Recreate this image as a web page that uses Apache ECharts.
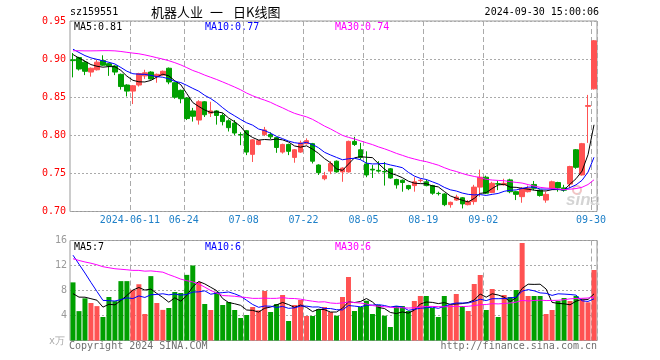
<!DOCTYPE html>
<html><head><meta charset="utf-8">
<script src="https://cdn.jsdelivr.net/npm/echarts@6/dist/echarts.min.js"></script>
<style>html,body{margin:0;padding:0;background:#fff}#c{width:660px;height:360px}</style>
</head><body><div id="c"></div>
<script>
const dates = [
'2024-05-27','2024-05-28','2024-05-29','2024-05-30','2024-05-31',
'2024-06-03','2024-06-04','2024-06-05','2024-06-06','2024-06-07',
'2024-06-11','2024-06-12','2024-06-13','2024-06-14',
'2024-06-17','2024-06-18','2024-06-19','2024-06-20','2024-06-21',
'2024-06-24','2024-06-25','2024-06-26','2024-06-27','2024-06-28',
'2024-07-01','2024-07-02','2024-07-03','2024-07-04','2024-07-05',
'2024-07-08','2024-07-09','2024-07-10','2024-07-11','2024-07-12',
'2024-07-15','2024-07-16','2024-07-17','2024-07-18','2024-07-19',
'2024-07-22','2024-07-23','2024-07-24','2024-07-25','2024-07-26',
'2024-07-29','2024-07-30','2024-07-31','2024-08-01','2024-08-02',
'2024-08-05','2024-08-06','2024-08-07','2024-08-08','2024-08-09',
'2024-08-12','2024-08-13','2024-08-14','2024-08-15','2024-08-16',
'2024-08-19','2024-08-20','2024-08-21','2024-08-22','2024-08-23',
'2024-08-26','2024-08-27','2024-08-28','2024-08-29','2024-08-30',
'2024-09-02','2024-09-03','2024-09-04','2024-09-05','2024-09-06',
'2024-09-09','2024-09-10','2024-09-11','2024-09-12','2024-09-13',
'2024-09-18','2024-09-19','2024-09-20',
'2024-09-23','2024-09-24','2024-09-25','2024-09-26','2024-09-27',
'2024-09-30'];

const open = [
0.899,0.902,0.896,0.883,0.886, 0.898,0.894,0.891,0.880,0.866,
0.858,0.866,0.878,0.883, 0.877,0.879,0.888,0.869,0.859,
0.849,0.832,0.820,0.844,0.829, 0.832,0.826,0.819,0.816,0.801,
0.806,0.775,0.788,0.801,0.801, 0.797,0.778,0.788,0.771,0.778,
0.789,0.789,0.761,0.743,0.753, 0.766,0.752,0.752,0.792,0.781,
0.7625,0.7555,0.754,0.7525,0.756, 0.742,0.741,0.734,0.734,0.7405,
0.739,0.734,0.7238,0.723,0.709, 0.715,0.718,0.709,0.713,0.732,
0.745,0.725,0.7365,0.735,0.7415, 0.726,0.7195,0.726,0.7355,0.728,
0.715,0.7305,0.738, 0.731,0.736,0.781,0.748,0.838, 0.861];
const close = [
0.898,0.887,0.884,0.888,0.896, 0.892,0.891,0.883,0.864,0.858,
0.865,0.881,0.882,0.874, 0.880,0.884,0.870,0.850,0.848,
0.822,0.825,0.844,0.827,0.832, 0.826,0.818,0.810,0.803,0.8005,
0.778,0.794,0.793,0.807,0.798, 0.784,0.788,0.779,0.781,0.790,
0.793,0.766,0.751,0.747,0.763, 0.752,0.757,0.792,0.788,0.771,
0.748,0.7545,0.753,0.752,0.744, 0.735,0.738,0.730,0.739,0.741,
0.734,0.724,0.7235,0.709,0.712, 0.719,0.710,0.713,0.732,0.745,
0.724,0.737,0.736,0.737,0.726, 0.7225,0.7305,0.7305,0.7305,0.721,
0.7225,0.739,0.731, 0.728,0.759,0.758,0.789,0.839, 0.924];
const low = [
0.876,0.885,0.879,0.877,0.885, 0.891,0.878,0.879,0.860,0.851,
0.841,0.864,0.874,0.873, 0.869,0.878,0.867,0.848,0.842,
0.820,0.818,0.814,0.824,0.824, 0.814,0.813,0.805,0.800,0.787,
0.774,0.765,0.787,0.799,0.795, 0.777,0.776,0.774,0.764,0.777,
0.788,0.763,0.748,0.741,0.749, 0.751,0.739,0.751,0.786,0.768,
0.745,0.744,0.751,0.734,0.743, 0.730,0.726,0.728,0.726,0.738,
0.733,0.722,0.721,0.707,0.705, 0.714,0.704,0.708,0.709,0.7195,
0.723,0.724,0.728,0.734,0.724, 0.715,0.7115,0.725,0.728,0.7195,
0.7115,0.729,0.726, 0.726,0.7305,0.756,0.747,0.790, 0.860];
const high = [
0.908,0.903,0.898,0.889,0.899, 0.905,0.895,0.892,0.881,0.867,
0.866,0.882,0.886,0.884, 0.881,0.885,0.889,0.870,0.860,
0.850,0.836,0.846,0.845,0.844, 0.833,0.829,0.821,0.820,0.804,
0.807,0.795,0.794,0.811,0.804, 0.798,0.789,0.789,0.782,0.793,
0.796,0.790,0.762,0.752,0.766, 0.767,0.758,0.793,0.798,0.790,
0.779,0.761,0.766,0.765,0.757, 0.743,0.742,0.735,0.745,0.743,
0.742,0.735,0.726,0.724,0.713, 0.722,0.719,0.715,0.735,0.755,
0.747,0.739,0.740,0.743,0.743, 0.727,0.732,0.734,0.740,0.729,
0.726,0.7405,0.739, 0.735,0.760,0.782,0.790,0.853, 0.925];
// volume, in 10k (万) units
const volume = [
9.3,4.7,6.75,6.0,5.5, 3.76,6.96,6.3,9.5,9.5,
8.1,9.0,4.24,10.3, 6.0,4.9,5.2,7.76,7.6,
10.5,12.0,9.36,5.84,4.88, 7.8,5.68,6.16,4.88,3.6,
4.08,5.36,4.83,7.92,4.56, 5.84,7.28,3.12,5.68,6.48,
3.92,3.92,5.0,5.36,4.55, 3.97,6.96,10.16,4.72,5.36,
6.37,4.24,5.68,3.97,2.16, 5.52,5.52,4.72,6.32,7.12,
7.12,5.2,3.76,7.12,5.68, 7.44,5.52,4.72,9.04,10.48,
4.88,8.24,3.76,7.28,6.96, 8.08,15.6,7.12,7.12,7.12,
4.24,4.88,6.32, 6.8,6.32,7.12,6.48,6.11, 11.28];
// sessions before 2024-05-27, estimated from where the MA lines start
const prevCloses = [0.885,0.89,0.888,0.892,0.887,0.89,0.893,0.888,0.889,0.895,
0.91,0.925,0.93,0.935,0.94,0.932,0.928,0.935,0.93,0.935,
0.93,0.925,0.918,0.915,0.912, 0.91,0.905,0.91,0.907];
const prevVolumes = [13,14,12,13,13, 12,11,12,12,11, 9,8,9,9,8, 17,18,19,18,18,
19,21,21,20,18, 7.5,6.8,7.2,6.7];

const labelDates = ['2024-06-11','2024-06-24','2024-07-08','2024-07-22','2024-08-05','2024-08-19','2024-09-02','2024-09-30'];
const labelTexts = ['2024-06-11','06-24','07-08','07-22','08-05','08-19','09-02','09-30'];
const priceMin = 0.70, priceMax = 0.95, priceStep = 0.05;
const volMin = 0, volMax = 16, volStep = 4;

const RED = '#ff5252', GREEN = '#00a000';
const MONO = 'DejaVu Sans Mono';

function ma(n, hist, vals) {
  const all = hist.concat(vals);
  return vals.map((_, i) => {
    const end = hist.length + i;
    let s = 0;
    for (let k = end - n + 1; k <= end; k++) s += all[k];
    return +(s / n).toFixed(4);
  });
}

const kData = dates.map((d, i) => [open[i], close[i], low[i], high[i]]);
const volData = volume.map((v, i) => ({ value: v, itemStyle: { color: close[i] >= open[i] ? RED : GREEN } }));
const isLabel = (i, v) => labelDates.indexOf(v) >= 0;

const chart = echarts.init(document.getElementById('c'), null, { renderer: 'canvas' });

function xAxisCfg(gi, showLabel) {
  return {
    type: 'category', gridIndex: gi, data: dates, boundaryGap: true,
    axisLine: { show: false }, axisTick: { show: false },
    axisLabel: {
      show: showLabel, interval: isLabel,
      formatter: v => labelTexts[labelDates.indexOf(v)],
      color: '#1f80c8', fontFamily: MONO, fontSize: 10, margin: 4, padding: [0, 6, 0, 0]
    },
    splitLine: { show: true, interval: isLabel, lineStyle: { color: '#aaaaaa', type: [5, 3], width: 1 } }
  };
}
function lineS(name, data, color, xi, yi) {
  return { name, type: 'line', data, xAxisIndex: xi, yAxisIndex: yi, symbol: 'none',
    lineStyle: { color, width: 1 }, itemStyle: { color }, z: 5, silent: true };
}

const txt = (text, x, y, fill, font, align) => ({
  type: 'text', x, y, silent: true,
  style: { text, fill, font, textAlign: align || 'left', textVerticalAlign: 'middle' }
});

chart.setOption({
  animation: false,
  backgroundColor: '#fff',
  grid: [
    { left: 70, top: 21, width: 527, height: 190.5, show: true, borderColor: '#999', borderWidth: 1, backgroundColor: 'transparent' },
    { left: 70, top: 240.5, width: 527, height: 100, show: true, borderColor: '#999', borderWidth: 1, backgroundColor: 'transparent' }
  ],
  xAxis: [xAxisCfg(0, true), xAxisCfg(1, false)],
  yAxis: [
    { type: 'value', gridIndex: 0, min: priceMin, max: priceMax, interval: priceStep,
      axisLine: { show: false }, axisTick: { show: false },
      axisLabel: { color: '#ff0000', fontFamily: MONO, fontSize: 10, margin: 4, formatter: v => v.toFixed(2) },
      splitLine: { lineStyle: { color: '#aaaaaa', type: [2, 2] } } },
    { type: 'value', gridIndex: 1, min: volMin, max: volMax, interval: volStep,
      axisLine: { show: false }, axisTick: { show: false },
      axisLabel: { color: '#999', fontFamily: MONO, fontSize: 10, margin: 3, formatter: v => v === 0 ? '' : String(v) },
      splitLine: { lineStyle: { color: '#aaaaaa', type: [2, 2] } } }
  ],
  series: [
    { type: 'candlestick', xAxisIndex: 0, yAxisIndex: 0, data: kData, barWidth: 5,
      itemStyle: { color: RED, color0: GREEN, borderColor: RED, borderColor0: GREEN, borderWidth: 1 } },
    lineS('MA5', ma(5, prevCloses, close), '#000000', 0, 0),
    lineS('MA10', ma(10, prevCloses, close), '#0000ff', 0, 0),
    lineS('MA30', ma(30, prevCloses, close), '#ff00ff', 0, 0),
    { type: 'bar', xAxisIndex: 1, yAxisIndex: 1, data: volData, barWidth: 5 },
    lineS('VMA5', ma(5, prevVolumes, volume), '#000000', 1, 1),
    lineS('VMA10', ma(10, prevVolumes, volume), '#0000ff', 1, 1),
    lineS('VMA30', ma(30, prevVolumes, volume), '#ff00ff', 1, 1)
  ],
  graphic: [
    txt('sz159551', 70, 12, '#000', '10px ' + MONO),
    txt('机器人业', 151, 12, '#000', '13px "Noto Sans CJK SC"'),
    txt('一', 210, 12, '#000', '13px "Noto Sans CJK SC"'),
    txt('日K线图', 233, 12, '#000', '13px "Noto Sans CJK SC"'),
    txt('2024-09-30 15:00:06', 599, 12, '#000', '10px ' + MONO, 'right'),
    txt('MA5:0.81', 74, 27, '#000', '10px ' + MONO),
    txt('MA10:0.77', 205, 27, '#0000ff', '10px ' + MONO),
    txt('MA30:0.74', 335, 27, '#ff00ff', '10px ' + MONO),
    txt('MA5:7', 74, 247, '#000', '10px ' + MONO),
    txt('MA10:6', 205, 247, '#0000ff', '10px ' + MONO),
    txt('MA30:6', 335, 247, '#ff00ff', '10px ' + MONO),
    txt('x万', 49, 341, '#aaa', '10px ' + MONO),
    txt('Copyright 2024 SINA.COM', 69, 346, '#707070', '10px ' + MONO),
    txt('http://finance.sina.com.cn', 597, 346, '#707070', '10px ' + MONO, 'right'),
    { type: 'circle', silent: true, z: 0, shape: { cx: 577, cy: 190, r: 4 }, style: { fill: 'none', stroke: '#f2c4c4', lineWidth: 2 } },
    txt('sina', 566, 200, '#d4d4d4', 'italic bold 17px Arial, "Liberation Sans"')
  ]
});
</script></body></html>
